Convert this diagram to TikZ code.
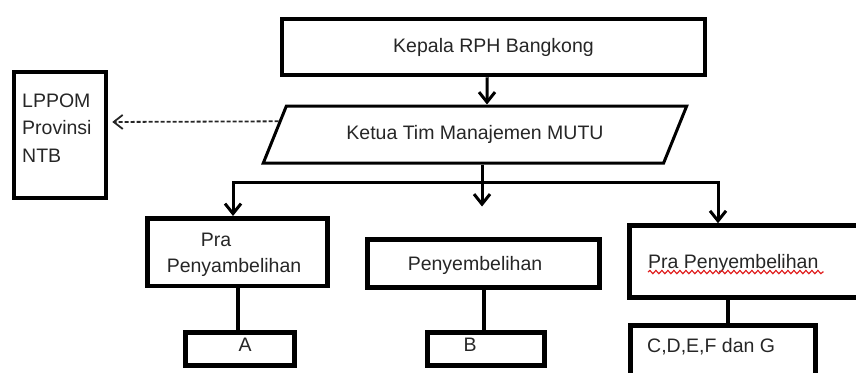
\documentclass[tikz,border=0pt]{standalone}
\usepackage{fontspec}
\setmainfont{Liberation Sans}
\usetikzlibrary{positioning, shapes.geometric, arrows.meta, calc, decorations.pathmorphing}
\definecolor{rphline}{HTML}{000000}
\definecolor{rphtext}{HTML}{262626}
\definecolor{rphred}{HTML}{E02020}

\begin{document}
\begin{tikzpicture}[x=1pt, y=-1pt, font=\fontsize{19.5}{27.5}\selectfont,
    unitbox/.style={draw=rphline, line width=4.5pt, inner sep=0pt, text=rphtext},
    txt/.style={inner sep=0pt, text=rphtext},
    arr/.style={-{Straight Barb[length=10pt,width=16pt]}, line width=3pt, color=rphline},
    link/.style={line width=4pt, color=rphline}]
    \useasboundingbox (0,0) rectangle (856,372);
    \clip (0,0) rectangle (856,372);

    \node[unitbox, minimum width=423pt, minimum height=56pt] (kepala) at (493.5,47) {Kepala RPH Bangkong};
    \node[trapezium, draw=rphline, line width=3pt, text=rphtext,
          trapezium left angle=57, trapezium right angle=123, trapezium stretches=true,
          minimum width=424pt, minimum height=57pt] (ketua) at (475,134.5) {Ketua Tim Manajemen MUTU};
    \node[unitbox, minimum width=92pt, minimum height=126pt] (lppom) at (60,135) {};
    \node[txt, align=left, anchor=west] (lppomtxt) at (22,128) {LPPOM\\Provinsi\\NTB};

    \node[unitbox, minimum width=180pt, minimum height=67.5pt] (pra1) at (237.5,252) {};
    \node[txt] (pra1a) at (216,240) {Pra};
    \node[txt] (pra1b) at (234,267) {Penyambelihan};
    \node[unitbox, minimum width=232pt, minimum height=48pt] (peny) at (483.5,263.5) {};
    \node[txt] (penytxt) at (475,265) {Penyembelihan};
    \node[unitbox, minimum width=240.5pt, minimum height=72pt] (pra2) at (749.75,261.5) {};
    \node[txt, anchor=west] (pra2txt) at (648,263) {Pra Penyembelihan};

    \node[unitbox, minimum width=109pt, minimum height=33pt] (boxa) at (240,349) {};
    \node[txt] (atxt) at (245,345) {A};
    \node[unitbox, minimum width=117pt, minimum height=33pt] (boxb) at (486,349) {};
    \node[txt] (btxt) at (470,345) {B};
    \node[unitbox, minimum width=185pt, minimum height=64.5pt] (boxc) at (723,357.75) {};
    \node[txt, anchor=west] (ctxt) at (647,347) {C,D,E,F dan G};

    \coordinate (split) at ([xshift=7pt,yshift=-18pt]ketua.south);
    \coordinate (midtip) at ([xshift=7pt,yshift=-42pt]ketua.south);

    \draw[arr] ([xshift=-6.5pt]kepala.south) -- ([xshift=12pt]ketua.north);
    \draw[dashed, dash pattern=on 4pt off 2pt, line width=1.8pt, color=rphtext,
          -{Straight Barb[length=9pt,width=14pt]}, shorten >=4pt]
          ($(ketua.top left corner)!0.28!(ketua.bottom left corner)$) -- ([yshift=13pt]lppom.east);
    \draw[arr] ([xshift=7pt]ketua.south) -- (midtip);
    \draw[arr] (split) -| ([xshift=-4.5pt]pra1.north);
    \draw[arr] (split) -| ([xshift=-31.75pt]pra2.north);

    \draw[link] (pra1.south) -- (pra1.south |- boxa.north);
    \draw[link] (peny.south) -- (peny.south |- boxb.north);
    \draw[link] ([xshift=4.5pt]boxc.north |- pra2.south) -- ([xshift=4.5pt]boxc.north);

    \draw[rphred, line width=1.2pt, decorate, decoration={snake, amplitude=1.6pt, segment length=6pt}]
          ([yshift=-4pt]pra2txt.base west) -- ([yshift=-4pt,xshift=5pt]pra2txt.base east);
\end{tikzpicture}
\end{document}
